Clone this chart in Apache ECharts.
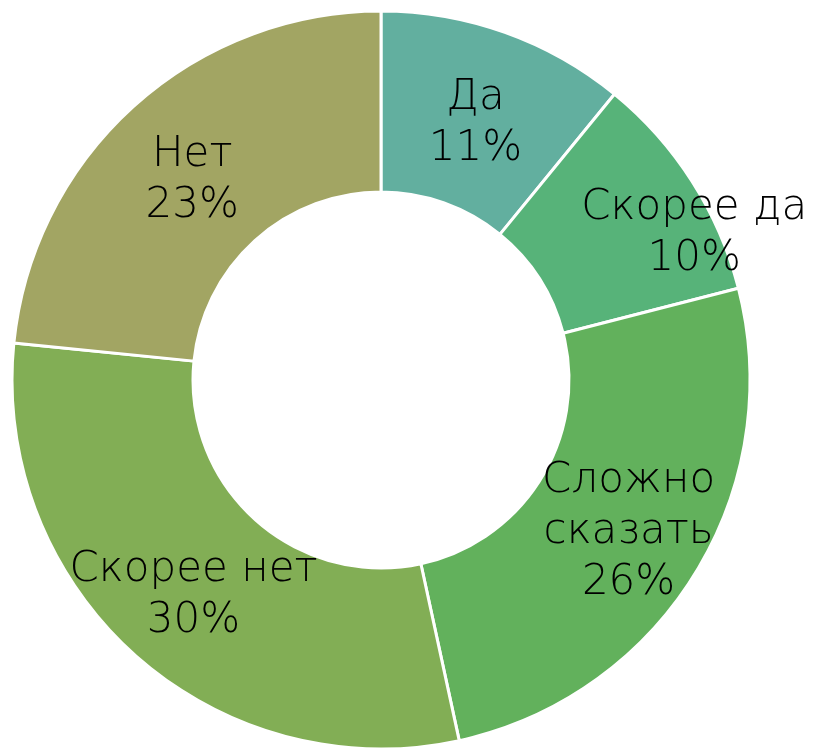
<!DOCTYPE html>
<html>
<head>
<meta charset="utf-8">
<script src="https://cdn.jsdelivr.net/npm/echarts@6/dist/echarts.min.js"></script>
<style>
  html, body { margin: 0; padding: 0; background: #fff; }
  #chart { width: 815px; height: 748px; }
</style>
</head>
<body>
<div id="chart"></div>
<script>
// данные опроса
var categories = ['Да', 'Скорее да', 'Сложно\nсказать', 'Скорее нет', 'Нет'];
var values = [10.9, 10.1, 25.6, 30.0, 23.4];
var colors = ['#62AF9F', '#57B379', '#62B15C', '#82AE55', '#A2A563'];

var chart = echarts.init(document.getElementById('chart'));

var pieData = categories.map(function (name, i) {
    return { name: name, value: values[i], itemStyle: { color: colors[i] } };
});

var option = {
    animation: false,
    series: [
        {
            type: 'pie',
            center: [381, 380],
            radius: [188, 369],
            startAngle: 90,
            clockwise: true,
            itemStyle: { borderColor: '#fff', borderWidth: 3 },
            label: {
                show: true,
                position: 'inner',
                color: '#000',
                fontFamily: 'DejaVu Sans',
                fontWeight: 200,
                fontSize: 42,
                lineHeight: 51,
                formatter: function (p) {
                    return p.name + '\n' + Math.round(p.percent) + '%';
                }
            },
            labelLayout: function (p) {
                // подпись "Скорее да" в оригинале сдвинута вправо
                if (p.dataIndex === 1) return { dx: 76, dy: 5 };
                if (p.dataIndex === 2) return { dx: 8, dy: 4 };
                if (p.dataIndex === 3) return { dy: 6 };
                return { dy: 9 };
            },
            emphasis: { disabled: true },
            data: pieData
        }
    ]
};
chart.setOption(option);
</script>
</body>
</html>
